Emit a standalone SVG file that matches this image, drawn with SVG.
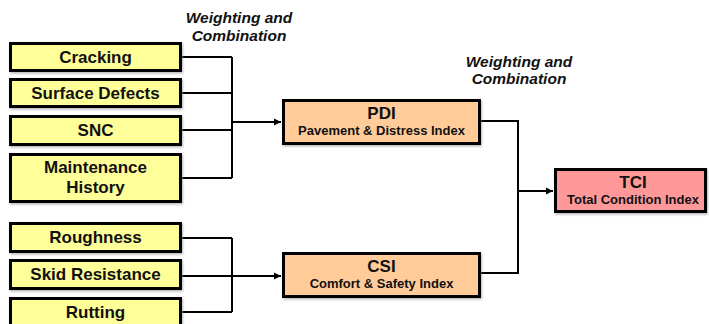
<svg xmlns="http://www.w3.org/2000/svg" width="709" height="324" viewBox="0 0 709 324">
<style>
.box{stroke:#000;stroke-width:3}
.y{fill:#FFFF99}
.o{fill:#FFCC99}
.r{fill:#FF9999}
.lbl{font-family:"Liberation Sans",Arial,sans-serif;font-weight:bold;font-size:17px;fill:#111;text-anchor:middle}
.sub{font-family:"Liberation Sans",Arial,sans-serif;font-weight:bold;font-size:13px;fill:#111;text-anchor:middle}
.wc{font-family:"Liberation Sans",Arial,sans-serif;font-weight:bold;font-style:italic;font-size:15.5px;fill:#111;text-anchor:middle}
.ln{fill:none;stroke:#000;stroke-width:2}
</style>
<defs>
<marker id="ah" markerWidth="8" markerHeight="8" refX="7" refY="4" orient="auto" markerUnits="userSpaceOnUse">
<path d="M0,0.5 L7,4 L0,7.5 Z" fill="#000"/>
</marker>
<filter id="sh" x="-5%" y="-10%" width="110%" height="130%">
<feDropShadow dx="1" dy="1.5" stdDeviation="0.8" flood-color="#888" flood-opacity="0.6"/>
</filter>
</defs>

<g id="label-wc1">
<text class="wc" x="239" y="23">Weighting and</text>
<text class="wc" x="239" y="41">Combination</text>
</g>
<g id="label-wc2">
<text class="wc" x="519" y="67">Weighting and</text>
<text class="wc" x="519" y="84">Combination</text>
</g>

<g id="connectors">
<path class="ln" d="M182 57 H232 M182 93 H232 M182 130 H232 M182 178 H232 M232 57 V178"/>
<path class="ln" d="M232 122 H281" marker-end="url(#ah)"/>
<path class="ln" d="M182 238 H232 M182 312 H232 M232 238 V312"/>
<path class="ln" d="M182 276 H281" marker-end="url(#ah)"/>
<path class="ln" d="M481 121 H518 V273 H481"/>
<path class="ln" d="M518 191 H553" marker-end="url(#ah)"/>
</g>

<g id="cracking"><rect class="box y" filter="url(#sh)" x="10.5" y="43.5" width="170" height="27"/><text class="lbl" x="95.5" y="63">Cracking</text></g>
<g id="surface-defects"><rect class="box y" filter="url(#sh)" x="10.5" y="79.5" width="170" height="27"/><text class="lbl" x="95.5" y="99">Surface Defects</text></g>
<g id="snc"><rect class="box y" filter="url(#sh)" x="10.5" y="116.5" width="170" height="28"/><text class="lbl" x="95.5" y="136">SNC</text></g>
<g id="maintenance-history"><rect class="box y" filter="url(#sh)" x="10.5" y="154.5" width="170" height="47"/><text class="lbl" x="95.5" y="173">Maintenance</text><text class="lbl" x="95.5" y="193">History</text></g>
<g id="roughness"><rect class="box y" filter="url(#sh)" x="10.5" y="223.5" width="170" height="28"/><text class="lbl" x="95.5" y="243">Roughness</text></g>
<g id="skid-resistance"><rect class="box y" filter="url(#sh)" x="10.5" y="260.5" width="170" height="28"/><text class="lbl" x="95.5" y="280">Skid Resistance</text></g>
<g id="rutting"><rect class="box y" filter="url(#sh)" x="10.5" y="298.5" width="170" height="32"/><text class="lbl" x="95.5" y="318">Rutting</text></g>

<g id="pdi"><rect class="box o" filter="url(#sh)" x="283.5" y="100.5" width="196" height="43"/><text class="lbl" x="381.5" y="119">PDI</text><text class="sub" x="381.5" y="135">Pavement &amp; Distress Index</text></g>
<g id="csi"><rect class="box o" filter="url(#sh)" x="283.5" y="253.5" width="196" height="43"/><text class="lbl" x="381.5" y="272">CSI</text><text class="sub" x="381.5" y="288">Comfort &amp; Safety Index</text></g>
<g id="tci"><rect class="box r" filter="url(#sh)" x="555.5" y="169.5" width="150" height="42"/><text class="lbl" x="633" y="188">TCI</text><text class="sub" x="633" y="204">Total Condition Index</text></g>
</svg>
